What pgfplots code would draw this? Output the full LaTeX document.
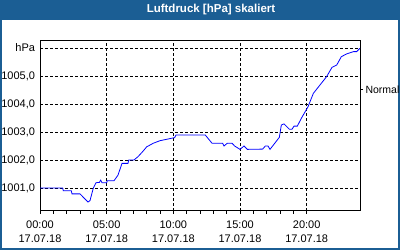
\documentclass[border=0pt]{standalone}
\usepackage{fontspec}
\setmainfont{Liberation Sans}
\usepackage{pgfplots}
\pgfplotsset{compat=1.18}
\definecolor{titleblue}{RGB}{27,94,148}
\begin{document}
\begin{tikzpicture}
\useasboundingbox (0bp,0bp) rectangle (400bp,250bp);
\fill[white] (0bp,0bp) rectangle (400bp,250bp);
\fill[titleblue] (0bp,229.5bp) rectangle (400bp,250bp);
\fill[titleblue] (0bp,0bp) rectangle (2bp,250bp);
\fill[titleblue] (398bp,0bp) rectangle (400bp,250bp);
\fill[titleblue] (0bp,0bp) rectangle (400bp,2bp);
\node[text=white, font=\fontsize{11.5bp}{13bp}\selectfont\bfseries] at (211bp,240bp) {Luftdruck [hPa] skaliert};
\begin{axis}[
  at={(40bp,39.3bp)}, anchor=south west,
  scale only axis, width=320bp, height=170.7bp,
  xmin=0, xmax=24, ymin=1000.19, ymax=1006.286,
  axis line style={black, line width=0.8bp},
  xtick={0,5,10,15,20},
  xticklabels={{00:00\\17.07.18},{05:00\\17.07.18},{10:00\\17.07.18},{15:00\\17.07.18},{20:00\\17.07.18}},
  xticklabel style={align=center, font=\fontsize{11bp}{14bp}\selectfont, yshift=-3.5bp},
  minor x tick num=4,
  xtick pos=bottom, tick align=outside,
  major tick length=3bp, minor tick length=3bp,
  xtick style={black, line width=0.8bp},
  ytick={1001,1002,1003,1004,1005,1006},
  yticklabels={{1001,0},{1002,0},{1003,0},{1004,0},{1005,0},{hPa}},
  yticklabel style={font=\fontsize{11bp}{12bp}\selectfont, xshift=1.5bp},
  ytick pos=left,
  ytick style={draw=none},
  xmajorgrids, ymajorgrids,
  major grid style={black, line width=0.8bp, dash pattern=on 3bp off 2bp},
  /pgf/number format/assume math mode=true,
]
\addplot[blue, line width=0.8bp] coordinates {
(0,1001.0)(1.7,1001.0)(1.75,1000.9)(2.35,1000.9)(2.4,1000.79)(3.0,1000.79)
(3.6,1000.5)(3.75,1000.55)(4.0,1001.0)(4.2,1001.19)(4.45,1001.2)(4.55,1001.28)
(4.65,1001.19)(5.0,1001.19)(5.05,1001.26)(5.55,1001.26)(5.85,1001.46)(6.15,1001.88)
(6.6,1001.88)(6.65,1002.0)(7.05,1002.0)(7.35,1002.12)(7.7,1002.3)(8.0,1002.47)
(8.5,1002.6)(9.0,1002.69)(9.8,1002.77)(10.1,1002.8)(10.2,1002.89)(12.4,1002.89)
(12.9,1002.6)(13.7,1002.6)(13.8,1002.5)(14.05,1002.6)(14.4,1002.6)(14.6,1002.5)
(15.0,1002.38)(15.3,1002.5)(15.55,1002.38)(16.7,1002.39)(16.9,1002.5)(17.1,1002.5)
(17.25,1002.38)(17.95,1002.81)(18.1,1003.25)(18.3,1003.29)(18.7,1003.1)(18.9,1003.1)
(19.05,1003.21)(19.3,1003.21)(19.6,1003.49)(20.1,1003.9)(20.5,1004.38)(21.0,1004.68)
(21.5,1004.98)(21.9,1005.31)(22.25,1005.39)(22.6,1005.69)(23.0,1005.79)(23.5,1005.87)
(23.75,1005.87)(24.0,1005.99)
};
\end{axis}
\begin{axis}[
  at={(40bp,39.3bp)}, anchor=south west,
  scale only axis, width=320bp, height=170.7bp,
  xmin=0, xmax=24, ymin=1000.19, ymax=1006.286,
  hide x axis, axis y line*=right,
  axis line style={draw=none},
  ytick={1004.52}, yticklabels={Normal},
  tick align=outside, major tick length=3bp,
  ytick style={black, line width=0.8bp},
  yticklabel style={font=\fontsize{10.5bp}{12bp}\selectfont, xshift=-1bp},
]
\end{axis}
\end{tikzpicture}
\end{document}
